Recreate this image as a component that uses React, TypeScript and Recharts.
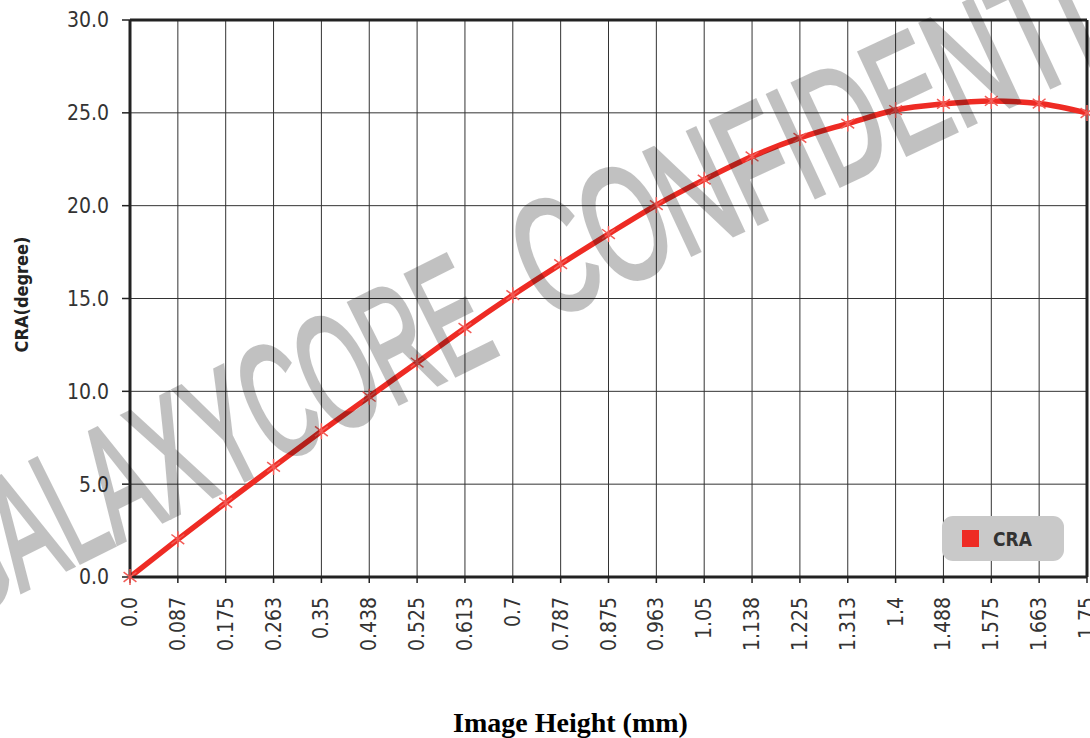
import {
  CartesianGrid,
  Label,
  Legend,
  Line,
  LineChart,
  ReferenceLine,
  XAxis,
  YAxis,
} from "recharts";

const heights = [
  "0.0", "0.087", "0.175", "0.263", "0.35", "0.438", "0.525", "0.613", "0.7", "0.787",
  "0.875", "0.963", "1.05", "1.138", "1.225", "1.313", "1.4", "1.488", "1.575", "1.663", "1.75",
];
const cra = [
  0, 2.03, 4.0, 5.93, 7.85, 9.71, 11.55, 13.41, 15.18, 16.85,
  18.47, 20.03, 21.4, 22.65, 23.65, 24.42, 25.15, 25.48, 25.64, 25.5, 24.99,
];
const yTicks = [0, 5, 10, 15, 20, 25, 30];

const data = heights.map((h, i) => ({ h, cra: cra[i] }));

const tickFont = "'DejaVu Sans Condensed', 'DejaVu Sans', sans-serif";

function StarDot(props: any) {
  const { cx, cy, index } = props;
  if (cx == null || cy == null) return null;
  const r = 8;
  const dx = r * 0.8;
  const dy = r * 0.6;
  return (
    <g key={index} stroke="#f25a55" strokeWidth={1.5}>
      <line x1={cx} y1={cy - r} x2={cx} y2={cy + r} />
      <line x1={cx - dx} y1={cy - dy} x2={cx + dx} y2={cy + dy} />
      <line x1={cx - dx} y1={cy + dy} x2={cx + dx} y2={cy - dy} />
    </g>
  );
}

function XTick(props: any) {
  const { x, y, payload } = props;
  return (
    <text
      x={x}
      y={y}
      transform={`rotate(-90 ${x} ${y})`}
      textAnchor="end"
      dominantBaseline="central"
      fontFamily={tickFont}
      fontSize={21}
      fill="#333"
    >
      {payload.value}
    </text>
  );
}

function renderLegend() {
  return (
    <div
      style={{
        width: 122,
        height: 45,
        background: "#c9c9c9",
        borderRadius: 11,
        display: "flex",
        alignItems: "center",
        boxSizing: "border-box",
        paddingLeft: 20,
      }}
    >
      <span style={{ width: 17, height: 17, background: "#ee2b24", display: "inline-block" }} />
      <span
        style={{
          marginLeft: 14,
          fontFamily: tickFont,
          fontWeight: "bold",
          fontSize: 19,
          color: "#333",
        }}
      >
        CRA
      </span>
    </div>
  );
}

export default function App() {
  return (
    <div style={{ position: "absolute", left: 0, top: 0, width: 1090, height: 738, background: "#fff" }}>
      <LineChart width={1090} height={738} data={data} margin={{ top: 20, right: 3, left: 0, bottom: 0 }}>
        <CartesianGrid stroke="#333" strokeWidth={1} />
        <XAxis
          dataKey="h"
          interval={0}
          height={161}
          tickSize={6}
          tickMargin={14}
          tick={<XTick />}
          axisLine={{ stroke: "#222", strokeWidth: 3 }}
          tickLine={{ stroke: "#222", strokeWidth: 1.5 }}
        >
          <Label
            content={(p: any) => {
              const vb = p.viewBox;
              return (
                <text
                  x={vb.x + vb.width / 2 - 38}
                  y={732}
                  textAnchor="middle"
                  fontFamily="'Liberation Serif', 'Times New Roman', serif"
                  fontWeight="bold"
                  fontSize={28}
                  fill="#000"
                >
                  Image Height (mm)
                </text>
              );
            }}
          />
        </XAxis>
        <YAxis
          domain={[0, 30]}
          ticks={yTicks}
          width={130}
          tickSize={8}
          tickMargin={13}
          tickFormatter={(v: number) => v.toFixed(1)}
          tick={{ fontFamily: tickFont, fontSize: 21, fill: "#333" }}
          axisLine={{ stroke: "#222", strokeWidth: 3 }}
          tickLine={{ stroke: "#222", strokeWidth: 1.5 }}
        >
          <Label
            content={(p: any) => {
              const vb = p.viewBox;
              const cx = 21;
              const cy = vb.y + vb.height / 2 - 4;
              return (
                <text
                  x={cx}
                  y={cy}
                  transform={`rotate(-90 ${cx} ${cy})`}
                  textAnchor="middle"
                  dominantBaseline="central"
                  fontFamily={tickFont}
                  fontWeight="bold"
                  fontSize={18}
                  fill="#222"
                >
                  CRA(degree)
                </text>
              );
            }}
          />
        </YAxis>
        <ReferenceLine y={30} stroke="#222" strokeWidth={3} />
        <ReferenceLine x="1.75" stroke="#222" strokeWidth={3} />
        <Legend
          layout="vertical"
          align="center"
          verticalAlign="middle"
          wrapperStyle={{ left: 942, top: 516, width: 122, height: 45 }}
          content={renderLegend}
        />
        <Line
          type="monotone"
          dataKey="cra"
          name="CRA"
          stroke="#ee2b24"
          strokeWidth={5.5}
          dot={<StarDot />}
          activeDot={false}
          isAnimationActive={false}
        />
      </LineChart>
      <svg
        width={1090}
        height={738}
        style={{ position: "absolute", left: 0, top: 0, pointerEvents: "none" }}
      >
        <g
          opacity={0.24}
          fill="#000"
          stroke="#000"
          strokeWidth={5}
          fontFamily="'Liberation Sans Narrow', 'Liberation Sans', sans-serif"
          fontSize={162}
        >
          <text
            x={-40}
            y={622}
            transform="rotate(-26.5 -40 622)"
            textLength={605}
            lengthAdjust="spacingAndGlyphs"
          >
            GALAXYCORE
          </text>
          <text
            x={546}
            y={322}
            transform="rotate(-25 546 322)"
            textLength={745}
            lengthAdjust="spacingAndGlyphs"
          >
            CONFIDENTIAL
          </text>
        </g>
      </svg>
    </div>
  );
}
